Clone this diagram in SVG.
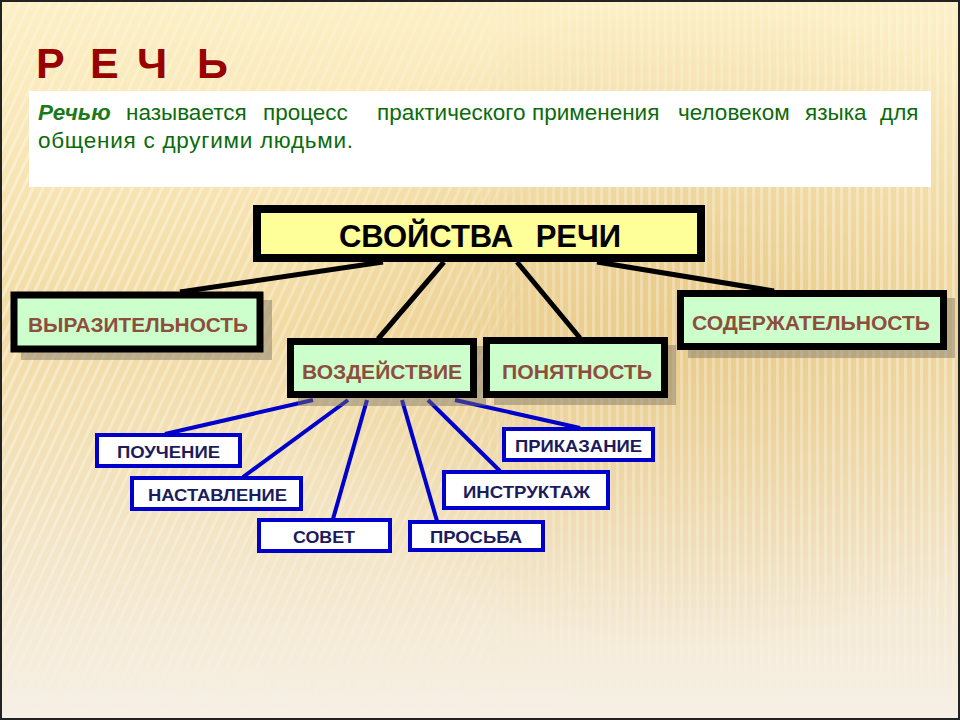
<svg xmlns="http://www.w3.org/2000/svg" width="960" height="720" viewBox="0 0 960 720">
<defs>
<linearGradient id="bg" x1="0" y1="0" x2="0" y2="1">
<stop offset="0" stop-color="#fdf0c6"/>
<stop offset="0.45" stop-color="#f2dba3"/>
<stop offset="0.75" stop-color="#f3e5c6"/>
<stop offset="1" stop-color="#f6f0e6"/>
</linearGradient>
<radialGradient id="glow" cx="0.72" cy="0.45" r="0.45">
<stop offset="0" stop-color="#e2bd72" stop-opacity="0.55"/>
<stop offset="1" stop-color="#e2bd72" stop-opacity="0"/>
</radialGradient>
<pattern id="diag" width="9" height="9" patternUnits="userSpaceOnUse" patternTransform="rotate(25)">
<rect width="3" height="9" fill="#ffffff" opacity="0.4"/>
</pattern>
<pattern id="vert" width="8" height="8" patternUnits="userSpaceOnUse">
<rect width="3" height="8" fill="#ffffff" opacity="0.35"/>
</pattern>
<linearGradient id="fadeL" x1="0" y1="0" x2="1" y2="0">
<stop offset="0" stop-color="#fff" stop-opacity="1"/>
<stop offset="0.5" stop-color="#fff" stop-opacity="0.6"/>
<stop offset="0.55" stop-color="#fff" stop-opacity="0"/>
</linearGradient>
<linearGradient id="fadeR" x1="0" y1="0" x2="1" y2="0">
<stop offset="0.45" stop-color="#fff" stop-opacity="0"/>
<stop offset="0.6" stop-color="#fff" stop-opacity="0.8"/>
<stop offset="1" stop-color="#fff" stop-opacity="1"/>
</linearGradient>
<linearGradient id="fadeV" x1="0" y1="0" x2="0" y2="1">
<stop offset="0" stop-color="#fff" stop-opacity="0.5"/>
<stop offset="0.3" stop-color="#fff" stop-opacity="1"/>
<stop offset="0.75" stop-color="#fff" stop-opacity="0.8"/>
<stop offset="1" stop-color="#fff" stop-opacity="0.1"/>
</linearGradient>
<mask id="mL"><rect width="960" height="720" fill="url(#fadeL)"/></mask>
<mask id="mR"><rect width="960" height="720" fill="url(#fadeR)"/></mask>
<mask id="mV"><rect width="960" height="720" fill="url(#fadeV)"/></mask>
<style>
.prop rect.box{fill:#ccffcc;stroke:#000;stroke-width:7}
.prop rect.sh{fill:#7a7060;opacity:0.45}
.prop text{font-family:"Liberation Sans",Arial,sans-serif;font-weight:bold;font-size:21px;fill:#8e4e3e;text-anchor:middle}
.kind rect{fill:#fff;stroke:#0000cc;stroke-width:4}
.kind text{font-family:"Liberation Sans",Arial,sans-serif;font-weight:bold;font-size:17px;fill:#1c1c5c;text-anchor:middle}
.blk{stroke:#000;stroke-width:5;fill:none}
.blu{stroke:#0000cc;stroke-width:4;fill:none}
.def{font-family:"Liberation Sans",Arial,sans-serif;font-size:22.5px;fill:#0b6b0b}
</style>
</defs>
<rect width="960" height="720" fill="url(#bg)"/>
<rect width="960" height="720" fill="url(#glow)"/>
<g mask="url(#mV)">
<rect width="960" height="720" fill="url(#diag)" mask="url(#mL)"/>
<rect width="960" height="720" fill="url(#vert)" mask="url(#mR)"/>
</g>
<rect x="1" y="1" width="958" height="718" fill="none" stroke="#222" stroke-width="2"/>

<text x="36 90 137 197" y="78" font-family="Liberation Sans, Arial, sans-serif" font-weight="bold" font-size="43" fill="#990000">РЕЧЬ</text>

<g id="definition">
<rect x="29" y="91" width="902" height="96" fill="#ffffff"/>
<text class="def" y="120"><tspan x="38" font-weight="bold" font-style="italic" fill="#1a7a1a">Речью</tspan><tspan x="126">называется</tspan><tspan x="263">процесс</tspan><tspan x="377">практического</tspan><tspan x="532">применения</tspan><tspan x="678">человеком</tspan><tspan x="805">языка</tspan><tspan x="880">для</tspan></text>
<text class="def" x="38" y="148" textLength="315" lengthAdjust="spacing">общения с другими людьми.</text>
</g>

<g id="connectors">
<line class="blk" x1="383" y1="262" x2="180" y2="292"/>
<line class="blk" x1="444" y1="262" x2="378" y2="339"/>
<line class="blk" x1="517" y1="262" x2="580" y2="338"/>
<line class="blk" x1="597" y1="262" x2="774" y2="291"/>
<line class="blu" x1="313" y1="400" x2="165" y2="434"/>
<line class="blu" x1="348" y1="400" x2="243" y2="477"/>
<line class="blu" x1="367" y1="400" x2="333" y2="519"/>
<line class="blu" x1="402" y1="400" x2="437" y2="521"/>
<line class="blu" x1="428" y1="400" x2="500" y2="471"/>
<line class="blu" x1="455" y1="400" x2="580" y2="428"/>
</g>

<g id="main">
<rect x="257" y="209" width="444" height="49" fill="#ffff99" stroke="#000" stroke-width="8"/>
<text x="480" y="247" font-family="Liberation Sans, Arial, sans-serif" font-weight="bold" font-size="31" fill="#000" text-anchor="middle" word-spacing="14">СВОЙСТВА РЕЧИ</text>
</g>

<g id="vyrazitelnost" class="prop">
<rect class="sh" x="21" y="300" width="251" height="60"/>
<rect class="box" x="14" y="295" width="246" height="54"/>
<text x="138" y="332" textLength="220" lengthAdjust="spacingAndGlyphs">ВЫРАЗИТЕЛЬНОСТЬ</text>
</g>
<g id="vozdeystvie" class="prop">
<rect class="sh" x="298" y="346" width="188" height="60"/>
<rect class="box" x="290.5" y="341.5" width="183" height="53"/>
<text x="382" y="379" textLength="160" lengthAdjust="spacingAndGlyphs">ВОЗДЕЙСТВИЕ</text>
</g>
<g id="ponyatnost" class="prop">
<rect class="sh" x="494" y="345" width="182" height="60"/>
<rect class="box" x="486.5" y="340.5" width="178" height="54"/>
<text x="577" y="379" textLength="150" lengthAdjust="spacingAndGlyphs">ПОНЯТНОСТЬ</text>
</g>
<g id="soderzhatelnost" class="prop">
<rect class="sh" x="688" y="298" width="267" height="60"/>
<rect class="box" x="680.5" y="293.5" width="263" height="53"/>
<text x="811" y="330" textLength="238" lengthAdjust="spacingAndGlyphs">СОДЕРЖАТЕЛЬНОСТЬ</text>
</g>

<g id="pouchenie" class="kind">
<rect x="97" y="435" width="143" height="31"/>
<text x="168.5" y="458" textLength="103" lengthAdjust="spacingAndGlyphs">ПОУЧЕНИЕ</text>
</g>
<g id="nastavlenie" class="kind">
<rect x="132" y="478" width="169" height="31"/>
<text x="217.5" y="501" textLength="139" lengthAdjust="spacingAndGlyphs">НАСТАВЛЕНИЕ</text>
</g>
<g id="sovet" class="kind">
<rect x="259" y="520" width="131" height="31"/>
<text x="324" y="543" textLength="62" lengthAdjust="spacingAndGlyphs">СОВЕТ</text>
</g>
<g id="prosba" class="kind">
<rect x="410" y="522" width="133" height="28"/>
<text x="476" y="543" textLength="92" lengthAdjust="spacingAndGlyphs">ПРОСЬБА</text>
</g>
<g id="instruktazh" class="kind">
<rect x="444" y="472" width="164" height="36"/>
<text x="526.5" y="498" textLength="127" lengthAdjust="spacingAndGlyphs">ИНСТРУКТАЖ</text>
</g>
<g id="prikazanie" class="kind">
<rect x="504" y="429" width="149" height="31"/>
<text x="578.5" y="452" textLength="127" lengthAdjust="spacingAndGlyphs">ПРИКАЗАНИЕ</text>
</g>
</svg>
